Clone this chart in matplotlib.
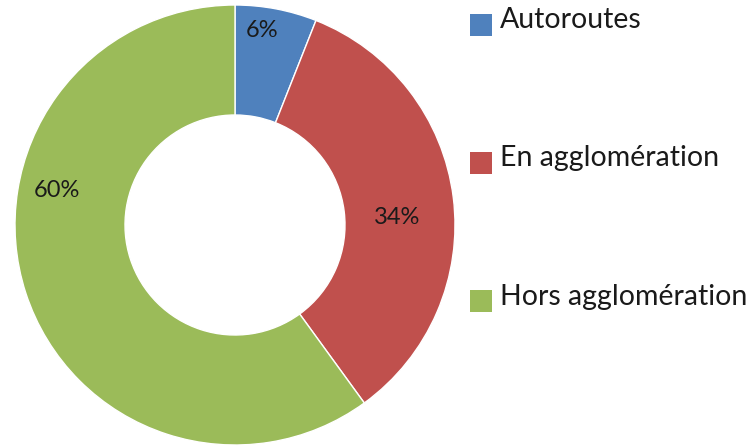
import matplotlib
matplotlib.use("Agg")
import matplotlib.pyplot as plt
from matplotlib.patches import Rectangle

categories = ["Autoroutes", "En agglomération", "Hors agglomération"]
values = [6, 34, 60]
pct_labels = ["6%", "34%", "60%"]
colors = ["#4F81BD", "#C0504D", "#9BBB59"]

plt.rcParams['font.family'] = ['Lato', 'DejaVu Sans']

W, H = 748, 446
fig = plt.figure(figsize=(W / 100, H / 100), dpi=100)
cx, cy, R = 235, 225, 220
ax = fig.add_axes([(cx - R) / W, (H - cy - R) / H, 2 * R / W, 2 * R / H])
ax.pie(values, colors=colors, startangle=90, counterclock=False, radius=1,
       wedgeprops=dict(width=0.5, edgecolor="white", linewidth=1))
ax.set_xlim(-1, 1)
ax.set_ylim(-1, 1)
ax.set_aspect("equal")
ax.axis("off")

label_pos = [(0.123, 0.886), (0.736, 0.032), (-0.809, 0.159)]
for (x, y), t in zip(label_pos, pct_labels):
    ax.text(x, y, t, ha="center", va="center", fontsize=17, color="#1a1a1a")

# legend
sq = 22
tops = [14, 152, 290]
baselines = [28, 166, 305]
for top, bl, c, lab in zip(tops, baselines, colors, categories):
    fig.patches.append(Rectangle((470 / W, (H - top - sq) / H), sq / W, sq / H,
                                 transform=fig.transFigure, facecolor=c, edgecolor="none"))
    fig.text(500 / W, (H - bl) / H, lab, ha="left", va="baseline", fontsize=20.5, color="#1a1a1a")

fig.savefig("out.png", dpi=100)
